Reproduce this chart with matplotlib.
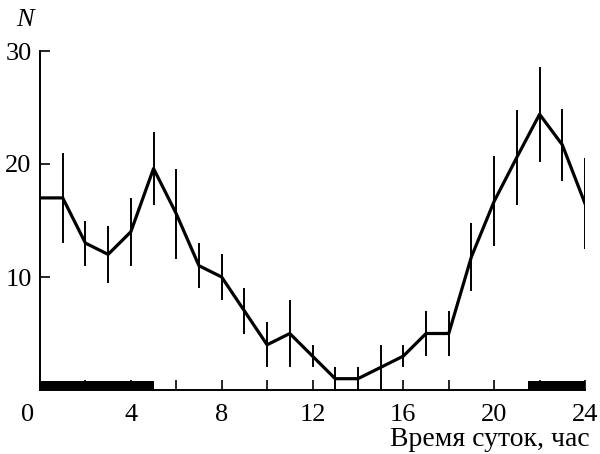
import matplotlib
matplotlib.use("Agg")
import matplotlib.pyplot as plt
from matplotlib.ticker import MultipleLocator

# Hourly counts and their errors
hours = list(range(0, 25))
counts = [17, 17, 13, 12, 14, 19.6, 15.6, 11, 10, 7, 4, 5, 3, 1, 1, 2, 3, 5, 5,
          11.8, 16.7, 20.6, 24.4, 21.7, 16.5]
errors = [0, 4, 2, 2.5, 3, 3.2, 4, 2, 2, 2, 2, 3, 1, 1, 1, 2, 1, 2, 2,
          3, 4, 4.2, 4.2, 3.2, 4]

# Dark periods (night) drawn as black bars on the time axis
night_start = [0, 21.5]
night_end = [5, 24]

x_labels = [4, 8, 12, 16, 20, 24]
y_labels = [10, 20, 30]

plt.rcParams['font.family'] = ['Liberation Serif', 'DejaVu Serif']

fig = plt.figure(figsize=(6, 4.54), dpi=100)
ax = fig.add_axes([40 / 600, 1 - 390 / 454, 545 / 600, 339 / 454])

ax.errorbar(hours, counts, yerr=errors, color='black', lw=2.3,
            elinewidth=1.4, capsize=0, zorder=3)

for s, e in zip(night_start, night_end):
    ax.fill_between([s, e], 0, 0.8, color='black', lw=0, zorder=4)

ax.set_xlim(0, 24)
ax.set_ylim(0, 30)
ax.spines['top'].set_visible(False)
ax.spines['right'].set_visible(False)
ax.spines['left'].set_linewidth(1.4)
ax.spines['bottom'].set_linewidth(1.4)

ax.xaxis.set_major_locator(MultipleLocator(2))
ax.set_xticklabels([])
ax.set_yticks(y_labels)
ax.set_yticklabels([str(v) for v in y_labels])
ax.tick_params(axis='x', direction='in', length=7, width=1.2)
ax.tick_params(axis='y', direction='in', length=7, width=1.2,
               labelsize=19, pad=6)

for v in x_labels:
    ax.text(v, -1.2, str(v), ha='center', va='top', fontsize=19)
ax.text(-0.55, -1.2, '0', ha='center', va='top', fontsize=19)

fig.text(25 / 600, 1 - 20 / 454, 'N', fontsize=19, style='italic',
         ha='center', va='center')
fig.text(590 / 600, 1 - 440 / 454, 'Время суток, час', fontsize=20,
         ha='right', va='center')

fig.savefig('out.png', dpi=100)
